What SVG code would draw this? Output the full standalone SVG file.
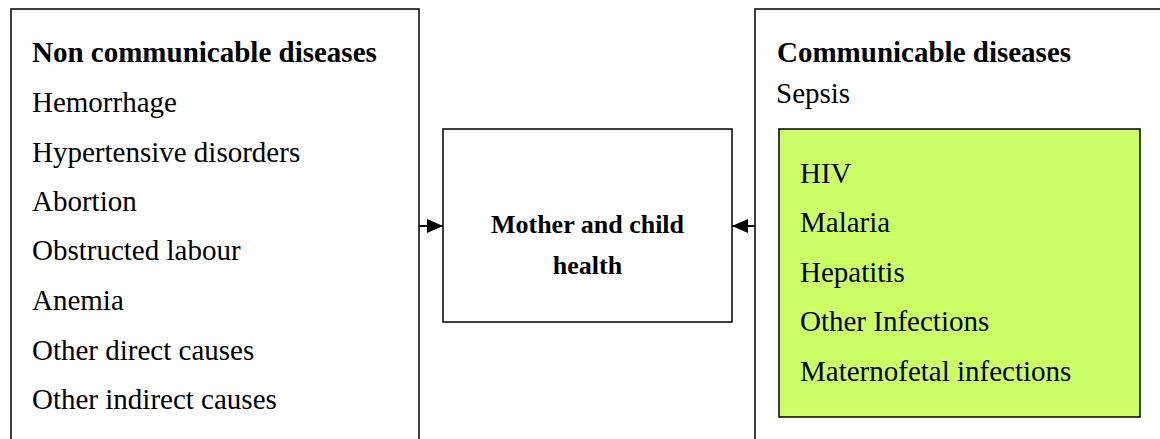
<svg xmlns="http://www.w3.org/2000/svg" width="1160" height="439" viewBox="0 0 1160 439">
<defs>
<style>
.box{fill:#fff;stroke:#000;stroke-width:1.5}
.green{fill:#ccff66;stroke:#000;stroke-width:1.5}
.t{font-family:"Liberation Serif","Times New Roman",serif;font-size:29px;fill:#000}
.b{font-weight:bold}
.c{font-family:"Liberation Serif","Times New Roman",serif;font-size:26px;font-weight:bold;fill:#000;text-anchor:middle}
.conn{stroke:#000;stroke-width:2;fill:none}
</style>
<marker id="ah" viewBox="0 0 16 14" refX="16" refY="7" markerWidth="16" markerHeight="14" markerUnits="userSpaceOnUse" orient="auto">
<path d="M0,0 L16,7 L0,14 z" fill="#000"/>
</marker>
</defs>
<rect width="1160" height="439" fill="#fff"/>
<g id="non-communicable">
<rect class="box" x="11" y="9" width="408" height="450"/>
<text class="t b" x="32" y="62">Non communicable diseases</text>
<text class="t" x="32" y="112">Hemorrhage</text>
<text class="t" x="32" y="162">Hypertensive disorders</text>
<text class="t" x="32" y="211">Abortion</text>
<text class="t" x="32" y="260">Obstructed labour</text>
<text class="t" x="32" y="310">Anemia</text>
<text class="t" x="32" y="360">Other direct causes</text>
<text class="t" x="32" y="409">Other indirect causes</text>
</g>
<g id="mother-child">
<rect class="box" x="443" y="129" width="289" height="193"/>
<text class="c" x="587.5" y="233">Mother and child</text>
<text class="c" x="587.5" y="274">health</text>
</g>
<g id="communicable">
<rect class="box" x="755" y="9" width="420" height="450"/>
<text class="t b" x="777" y="62">Communicable diseases</text>
<text class="t" x="776" y="103">Sepsis</text>
<g id="infections">
<rect class="green" x="779" y="129" width="361" height="288"/>
<text class="t" x="800" y="183">HIV</text>
<text class="t" x="800" y="232">Malaria</text>
<text class="t" x="800" y="282">Hepatitis</text>
<text class="t" x="800" y="331">Other Infections</text>
<text class="t" x="800" y="381">Maternofetal infections</text>
</g>
</g>
<g id="connectors">
<line class="conn" x1="419" y1="226" x2="443" y2="226" marker-end="url(#ah)"/>
<line class="conn" x1="755" y1="226" x2="732" y2="226" marker-end="url(#ah)"/>
</g>
</svg>
